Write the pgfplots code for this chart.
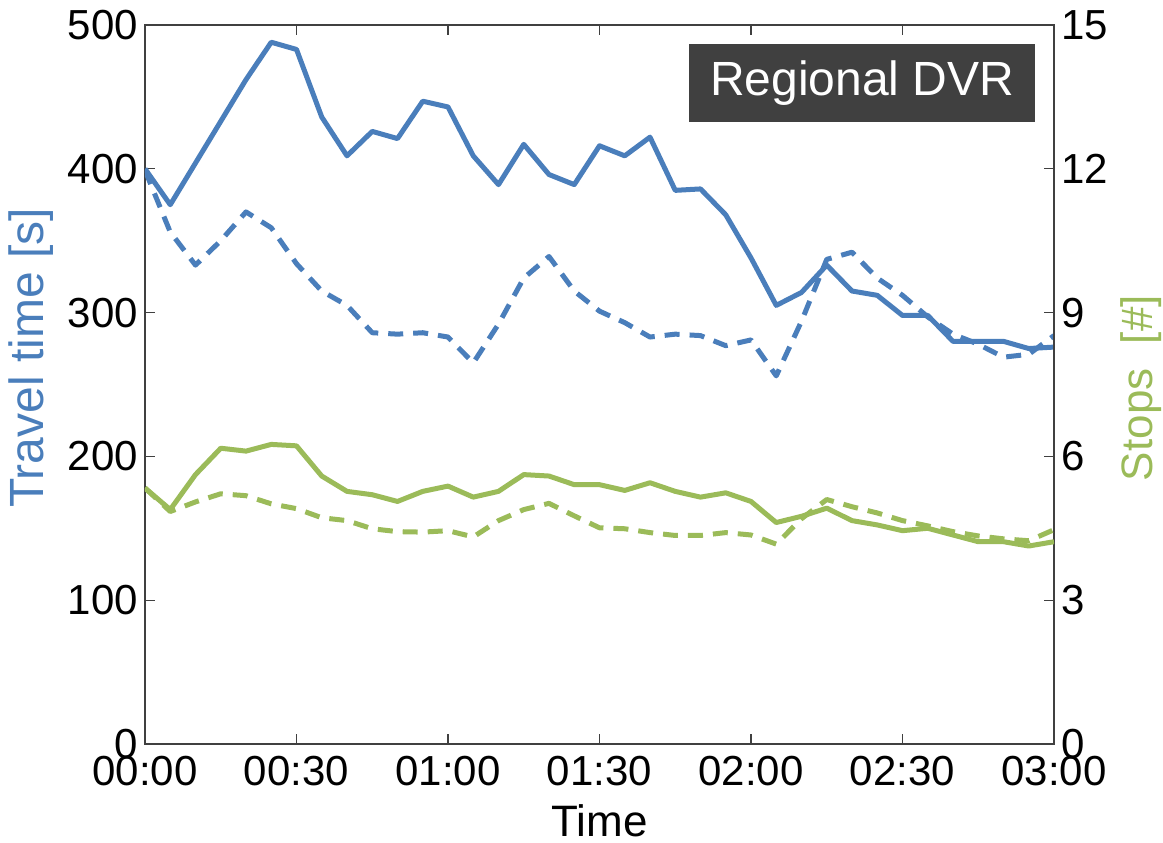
\documentclass[border=0pt]{standalone}
\usepackage{pgfplots}
\pgfplotsset{compat=1.18}
\usepackage{fontspec}
\setmainfont{Liberation Sans}
\definecolor{tblue}{HTML}{4A7EBB}
\definecolor{sgreen}{HTML}{9BBB59}
\definecolor{boxgray}{HTML}{404040}

\begin{document}
\begin{tikzpicture}
\pgfplotsset{
  every axis/.append style={
    scale only axis, width=454.5pt, height=359.5pt,
    xmin=0, xmax=180,
    tick align=inside,
    major tick length=5pt,
    tick style={black!75, line width=0.6pt},
    axis line style={black!75, line width=0.6pt},
    tick label style={font=\fontsize{21}{25}\selectfont},
    label style={font=\fontsize{22}{26}\selectfont},
    /pgf/number format/assume math mode=true,
  }
}
\begin{axis}[
  ymin=0, ymax=500, ytick={0,100,...,500},
  xtick={0,30,...,180},
  xticklabels={00:00,00:30,01:00,01:30,02:00,02:30,03:00},
  xticklabel style={yshift=-2.5pt},
  xtick pos=both, ytick pos=left,
  xlabel={Time},
  ylabel={Travel time [s]},
  ylabel style={tblue, font=\fontsize{24}{28}\selectfont, at={(axis description cs:-0.125,0.537)}, anchor=center},
  xlabel style={at={(axis description cs:0.5,-0.107)}, anchor=center},
]
\coordinate (bl) at (rel axis cs:0,0);
\coordinate (tr) at (rel axis cs:1,1);
% travel time, solid
\addplot[tblue, line width=2.5pt, line join=round] coordinates {
(0,400) (5,375) (10,404) (15,433) (20,462) (25,488) (30,483) (35,436) (40,409)
(45,426) (50,421) (55,447) (60,443) (65,409) (70,389) (75,417) (80,396) (85,389)
(90,416) (95,409) (100,422) (105,385) (110,386) (115,368) (120,338) (125,305)
(130,314) (135,333) (140,315) (145,312) (150,298) (155,298) (160,280) (165,280)
(170,280) (175,275) (180,276)};
% travel time, dashed
\addplot[tblue, line width=2.5pt, line join=round, dash pattern=on 7.5pt off 5pt] coordinates {
(0,399) (5,356) (10,333) (15,350) (20,370) (25,359) (30,334) (35,315) (40,305)
(45,286) (50,285) (55,286) (60,283) (65,265) (70,292) (75,324) (80,339) (85,315)
(90,301) (95,293) (100,283) (105,285) (110,284) (115,277) (120,281) (125,256)
(130,294) (135,337) (140,342) (145,324) (150,312) (155,297) (160,285) (165,278)
(170,269) (175,271) (180,284)};
\fill[boxgray] (axis cs:107.7,486.8) rectangle (axis cs:176.2,432.5);
\node[white, font=\fontsize{24}{28}\selectfont] at (axis cs:142,459.7) {Regional DVR};
\end{axis}
\begin{axis}[
  ymin=0, ymax=15, ytick={0,3,...,15},
  axis y line*=right, axis x line=none,
  ylabel={Stops~~[\#]},
  ylabel style={sgreen, at={(axis description cs:1.096,0.495)}, anchor=center},
]
% stops, solid
\addplot[sgreen, line width=2.5pt, line join=round] coordinates {
(0,5.34) (5,4.89) (10,5.62) (15,6.17) (20,6.11) (25,6.25) (30,6.22) (35,5.59) (40,5.27)
(45,5.20) (50,5.06) (55,5.27) (60,5.38) (65,5.15) (70,5.27) (75,5.62) (80,5.59) (85,5.41)
(90,5.41) (95,5.29) (100,5.45) (105,5.27) (110,5.15) (115,5.24) (120,5.06) (125,4.62)
(130,4.75) (135,4.92) (140,4.66) (145,4.57) (150,4.45) (155,4.50) (160,4.36) (165,4.22)
(170,4.22) (175,4.13) (180,4.22)};
% stops, dashed
\addplot[sgreen, line width=2.5pt, line join=round, dash pattern=on 7.5pt off 5pt] coordinates {
(0,5.34) (5,4.85) (10,5.05) (15,5.22) (20,5.18) (25,5.01) (30,4.91) (35,4.72) (40,4.66)
(45,4.49) (50,4.43) (55,4.42) (60,4.45) (65,4.32) (70,4.66) (75,4.89) (80,5.02) (85,4.76)
(90,4.51) (95,4.49) (100,4.41) (105,4.35) (110,4.35) (115,4.41) (120,4.36) (125,4.17)
(130,4.70) (135,5.10) (140,4.95) (145,4.82) (150,4.66) (155,4.55) (160,4.43) (165,4.34)
(170,4.28) (175,4.24) (180,4.47)};
\end{axis}
\pgfresetboundingbox
\path[use as bounding box] ([xshift=-72.5pt,yshift=-49.5pt]bl) rectangle ([xshift=54.5pt,yshift=12.5pt]tr);
\end{tikzpicture}
\end{document}
